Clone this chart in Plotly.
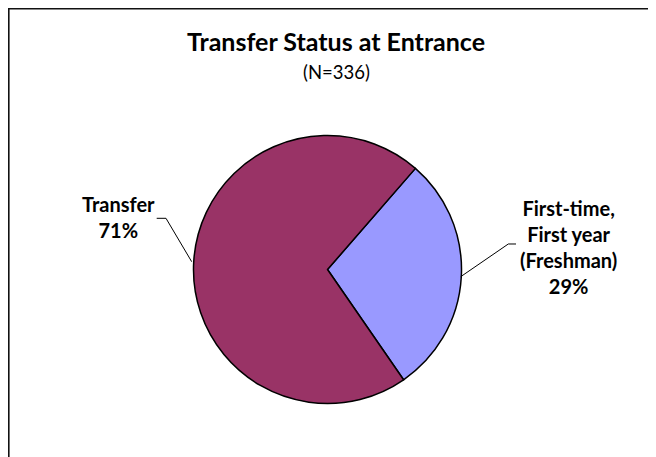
import plotly.graph_objects as go

# ---- data ----
categories = ["First-time, First year (Freshman)", "Transfer"]
label_lines = [["First-time,", "First year", "(Freshman)"], ["Transfer"]]
percent_values = [29, 71]
slice_colors = ["#9999FF", "#993366"]
title_text = "Transfer Status at Entrance"
subtitle_text = "(N=336)"

OFF = 8  # page body margin
W, H = 656 - OFF, 457 - OFF

def px(x):
    return (x - OFF) / W

def py(y):
    return 1 - (y - OFF) / H

cx, cy, r = 327.5, 269.5, 134.0

fig = go.Figure(go.Pie(
    labels=categories,
    values=percent_values,
    sort=False,
    direction="clockwise",
    rotation=41,
    marker=dict(colors=slice_colors, line=dict(color="#000000", width=1.5)),
    textinfo="none",
    hoverinfo="label+percent",
    showlegend=False,
    domain=dict(x=[px(cx - r), px(cx + r)], y=[py(cy + r), py(cy - r)]),
))

font_family = "Lato, 'Open Sans', sans-serif"
annotations = [
    dict(text="<b>" + title_text + "</b>", x=px(336), y=py(41), xref="paper", yref="paper",
         showarrow=False, xanchor="center", yanchor="middle",
         font=dict(family=font_family, size=25, color="#000")),
    dict(text=subtitle_text, x=px(336.5), y=py(72), xref="paper", yref="paper",
         showarrow=False, xanchor="center", yanchor="middle",
         font=dict(family=font_family, size=18.5, color="#000")),
]

label_pos = {1: (118, 217.5), 0: (568, 247)}
for i, lines in enumerate(label_lines):
    txt = "<br>".join(["<b>" + s + "</b>" for s in lines] + ["<b>%d%%</b>" % percent_values[i]])
    x, y = label_pos[i]
    annotations.append(dict(text=txt, x=px(x), y=py(y), xref="paper", yref="paper",
                            showarrow=False, xanchor="center", yanchor="middle", align="center",
                            font=dict(family=font_family, size=20, color="#000")))

def path_px(pts):
    return "M " + " L ".join("%f,%f" % (px(a), py(b)) for a, b in pts)

shapes = [
    dict(type="path", xref="paper", yref="paper",
         path=path_px([(156.7, 218.3), (166, 218.3), (191.7, 261.7)]),
         line=dict(color="#000", width=1)),
    dict(type="path", xref="paper", yref="paper",
         path=path_px([(460.7, 276.7), (508.3, 244), (516, 244)]),
         line=dict(color="#000", width=1)),
    dict(type="path", xref="paper", yref="paper",
         path=path_px([(8.8, 460), (8.8, 8.8), (660, 8.8)]),
         line=dict(color="#111", width=1.6)),
]

fig.update_layout(
    width=W, height=H,
    margin=dict(l=0, r=0, t=0, b=0),
    paper_bgcolor="#ffffff",
    plot_bgcolor="#ffffff",
    annotations=annotations,
    shapes=shapes,
)

fig.write_html("out.html")
